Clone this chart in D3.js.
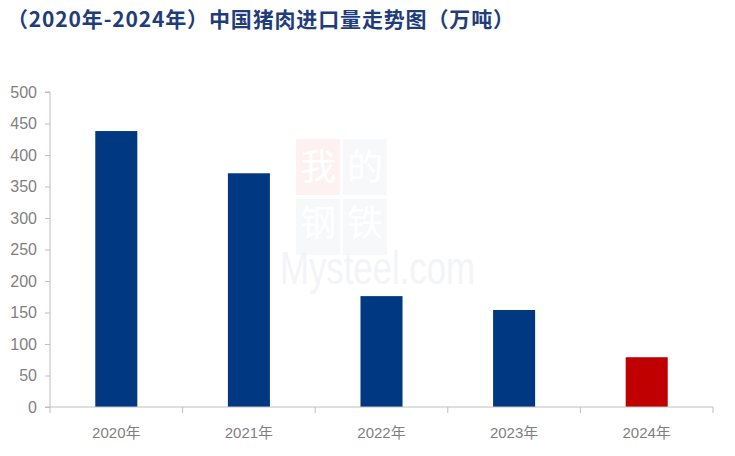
<!DOCTYPE html>
<html><head><meta charset="utf-8">
<script src="https://cdn.jsdelivr.net/npm/d3@7"></script>
<style>body{margin:0;background:#fff}</style>
</head><body>
<svg id="c" width="735" height="456"></svg>
<script>
const categories = ["2020年","2021年","2022年","2023年","2024年"];
const values = [438, 371, 176, 154, 79];
const barColors = ["#003882","#003882","#003882","#003882","#C00000"];
const yTicks = [0,50,100,150,200,250,300,350,400,450,500];
const title = "（2020年-2024年）中国猪肉进口量走势图（万吨）";

const svg = d3.select("#c");
const m = {l:50, r:22, t:92, b:49};
const W = 735, H = 456;
const x = d3.scaleBand().domain(categories).range([m.l, W-m.r]).paddingInner(0.683).paddingOuter(0.3415);
const xb = d3.scaleBand().domain(categories).range([m.l, W-m.r]);
const y = d3.scaleLinear().domain([0,500]).range([H-m.b, m.t]);

// watermark
const wm = svg.append("g");
wm.append("rect").attr("x",296).attr("y",139).attr("width",44).attr("height",56).attr("fill","#fdf1f1");
wm.append("rect").attr("x",343).attr("y",139).attr("width",44).attr("height",56).attr("fill","#f7f8fa");
wm.append("rect").attr("x",296).attr("y",199).attr("width",44).attr("height",56).attr("fill","#f7f8fa");
wm.append("rect").attr("x",343).attr("y",199).attr("width",44).attr("height",56).attr("fill","#f7f8fa");
const wt = svg.append("g").attr("font-family","'Noto Sans CJK SC'").attr("font-size",36).attr("fill","#ffffff");
wt.append("text").attr("x",318).attr("y",180).attr("text-anchor","middle").text("我");
wt.append("text").attr("x",365).attr("y",180).attr("text-anchor","middle").text("的");
wt.append("text").attr("x",318).attr("y",236).attr("text-anchor","middle").text("钢");
wt.append("text").attr("x",365).attr("y",236).attr("text-anchor","middle").text("铁");
svg.append("text").attr("x",280).attr("y",284).attr("font-family","'Liberation Sans',Arial").attr("font-size",46)
  .attr("textLength",195).attr("lengthAdjust","spacingAndGlyphs").attr("fill","#f3f4f7").text("Mysteel.com");

// bars
svg.append("g").selectAll("rect").data(values).join("rect")
  .attr("x",(d,i)=>x(categories[i]))
  .attr("width",x.bandwidth())
  .attr("y",d=>y(d))
  .attr("height",d=>y(0)-y(d))
  .attr("fill",(d,i)=>barColors[i]);

// y axis
const ya = svg.append("g").attr("transform",`translate(${m.l},0)`)
  .call(d3.axisLeft(y).tickValues(yTicks).tickSize(5).tickPadding(8));
ya.select(".domain").attr("stroke","#bfbfbf").attr("d",`M-5,${y(500)}H0V${y(0)}H-5`);
ya.selectAll(".tick line").attr("stroke","#bfbfbf");
ya.selectAll(".tick text").attr("fill","#7f7f7f").attr("font-size",16).attr("font-family","'Liberation Sans',Arial");

// x axis
const xa = svg.append("g").attr("transform",`translate(0,${y(0)})`);
xa.append("line").attr("x1",m.l).attr("x2",W-m.r).attr("stroke","#bfbfbf");
const bounds = categories.map(c=>xb(c)).concat([W-m.r]);
xa.selectAll("line.tk").data(bounds).join("line").attr("class","tk")
  .attr("x1",d=>d).attr("x2",d=>d).attr("y1",0).attr("y2",6).attr("stroke","#bfbfbf");
xa.selectAll("text").data(categories).join("text")
  .attr("x",c=>xb(c)+xb.bandwidth()/2).attr("y",31)
  .attr("text-anchor","middle").attr("fill","#7f7f7f").attr("font-size",15)
  .attr("font-family","'Liberation Sans','Noto Sans CJK SC',Arial").text(c=>c);

// title
svg.append("text").attr("x",7).attr("y",27).attr("fill","#1f3d7a")
  .attr("font-family","'Noto Sans CJK SC'").attr("font-weight","bold").attr("font-size",21)
  .attr("textLength",507).attr("lengthAdjust","spacing")
  .text(title);
</script>
</body></html>
